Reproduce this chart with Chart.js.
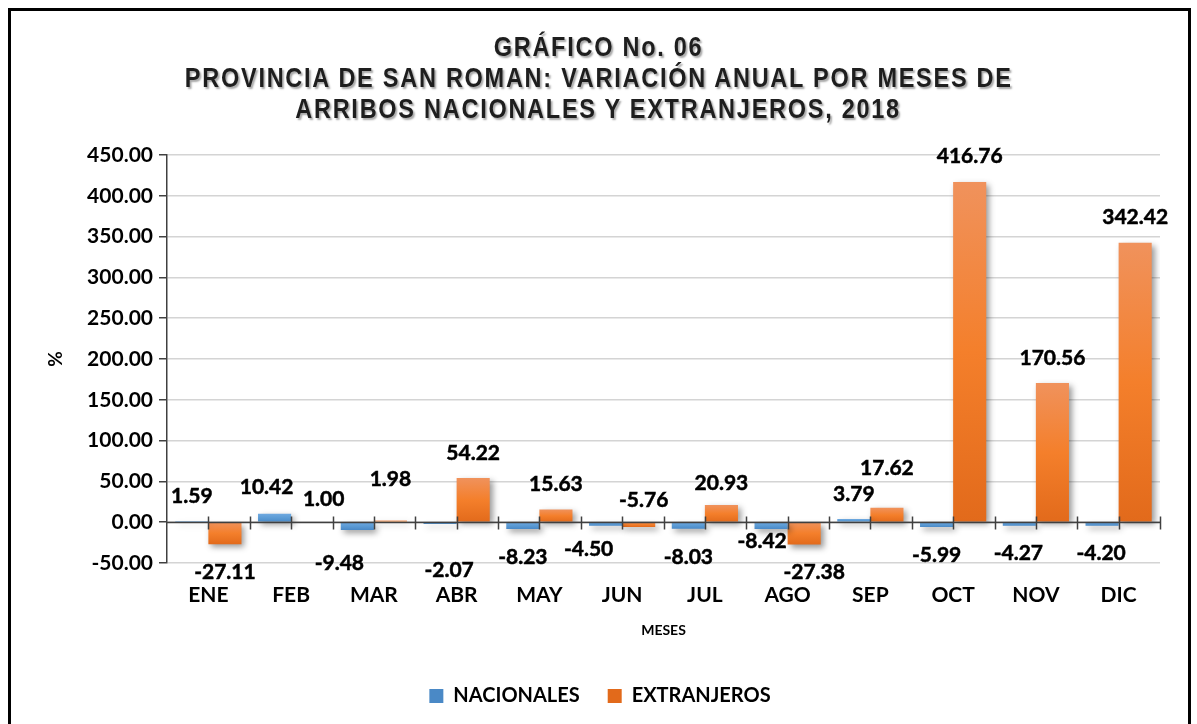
<!DOCTYPE html>
<html>
<head>
<meta charset="utf-8">
<script src="https://cdn.jsdelivr.net/npm/chart.js@4"></script>
<style>
    body { margin: 0; background: #fff; }
    #wrap { position: relative; width: 1197px; height: 724px; overflow: hidden; }
    #chart { position: absolute; left: 0; top: 0; }
    #frame { position: absolute; left: 8px; top: 8px; width: 1183px; height: 740px; border: 3px solid #000; box-sizing: border-box; pointer-events: none; }
    #title { position: absolute; left: 0; top: 32px; width: 1197px; text-align: center; color: #1e1e1e;
             font: bold 27px 'Liberation Sans', Arial, sans-serif;
             letter-spacing: 2px; line-height: 31px; text-shadow: 2px 2px 2px rgba(0, 0, 0, 0.35); }
    #title span { display: inline-block; transform: scaleX(0.87); white-space: nowrap; }
</style>
</head>
<body>
<div id="wrap">
    <canvas id="chart" width="1197" height="724"></canvas>
    <div id="title"><span>GRÁFICO No. 06</span><br><span>PROVINCIA DE SAN ROMAN: VARIACIÓN ANUAL POR MESES DE</span><br><span>ARRIBOS NACIONALES Y EXTRANJEROS, 2018</span></div>
    <div id="frame"></div>
</div>
<script>
const months = ['ENE', 'FEB', 'MAR', 'ABR', 'MAY', 'JUN', 'JUL', 'AGO', 'SEP', 'OCT', 'NOV', 'DIC'];
const nacionales = [1.59, 10.42, -9.48, -2.07, -8.23, -4.50, -8.03, -8.42, 3.79, -5.99, -4.27, -4.20];
const extranjeros = [-27.11, 1.00, 1.98, 54.22, 15.63, -5.76, 20.93, -27.38, 17.62, 416.76, 170.56, 342.42];
const yMin = -50;
const yMax = 450;
const yStep = 50;

// label nudges (px) relative to the bar end, as placed in the original
const nacLabelShift = [[0, -25], [-8, -26], [-18, 33], [9, 46], [0, 28], [-17, 23], [0, 28], [-9, 12], [0, -25], [0, 28], [-1, 28], [-1, 28]];
const extLabelShift = [[0, 28], [16, -22], [0, -41], [0, -25], [0, -25], [5, -27], [0, -22], [10, 28], [0, -40], [0, -26], [0, -25], [0, -26]];

const tickFont = { family: 'Lato, Carlito, sans-serif', size: 21, weight: 'bold' };

function barFill(top, mid, bottom) {
    return function (c) {
        const y = c.chart.scales.y;
        if (c.type !== 'data' || !y) return mid;
        const p0 = y.getPixelForValue(0);
        const p1 = y.getPixelForValue(c.raw);
        if (!isFinite(p0) || !isFinite(p1)) return mid;
        const g = c.chart.ctx.createLinearGradient(0, Math.min(p0, p1), 0, Math.max(p0, p1) + 0.01);
        g.addColorStop(0, top);
        g.addColorStop(0.5, mid);
        g.addColorStop(1, bottom);
        return g;
    };
}

const barShadow = {
    id: 'barShadow',
    beforeDatasetsDraw(chart) {
        const ctx = chart.ctx;
        ctx.save();
        ctx.shadowColor = 'rgba(0, 0, 0, 0.4)';
        ctx.shadowBlur = 6;
        ctx.shadowOffsetX = 3;
        ctx.shadowOffsetY = 3;
    },
    afterDatasetsDraw(chart) {
        chart.ctx.restore();
    }
};

// zero line with cross ticks every half category, like the original axis
const zeroAxis = {
    id: 'zeroAxis',
    afterDatasetsDraw(chart) {
        const ctx = chart.ctx;
        const y0 = Math.round(chart.scales.y.getPixelForValue(0)) + 0.5;
        const area = chart.chartArea;
        const step = (area.right - area.left) / (months.length * 2);
        ctx.save();
        ctx.strokeStyle = '#404040';
        ctx.lineWidth = 1.5;
        ctx.beginPath();
        ctx.moveTo(area.left, y0);
        ctx.lineTo(area.right, y0);
        for (let i = 1; i <= months.length * 2; i++) {
            const px = Math.round(area.left + i * step) + 0.5;
            ctx.moveTo(px, y0 - 6);
            ctx.lineTo(px, y0 + 7);
        }
        ctx.stroke();
        ctx.restore();
    }
};

const valueLabels = {
    id: 'valueLabels',
    afterDatasetsDraw(chart) {
        const ctx = chart.ctx;
        const shifts = [nacLabelShift, extLabelShift];
        ctx.save();
        ctx.font = 'bold 21px Lato, Carlito, sans-serif';
        ctx.fillStyle = '#000';
        ctx.strokeStyle = '#000';
        ctx.lineWidth = 0.5;
        ctx.textAlign = 'center';
        ctx.textBaseline = 'middle';
        chart.data.datasets.forEach(function (ds, d) {
            chart.getDatasetMeta(d).data.forEach(function (bar, i) {
                const s = shifts[d][i];
                const txt = ds.data[i].toFixed(2);
                ctx.fillText(txt, bar.x + s[0], bar.y + s[1]);
                ctx.strokeText(txt, bar.x + s[0], bar.y + s[1]);
            });
        });
        ctx.restore();
    }
};

new Chart(document.getElementById('chart'), {
    type: 'bar',
    data: {
        labels: months,
        datasets: [
            {
                label: 'NACIONALES',
                data: nacionales,
                backgroundColor: barFill('#6fa9e0', '#5b9bd5', '#4a89c6'),
                categoryPercentage: 0.8,
                barPercentage: 1.0
            },
            {
                label: 'EXTRANJEROS',
                data: extranjeros,
                backgroundColor: barFill('#f0925c', '#f47f2b', '#e26a1b'),
                categoryPercentage: 0.8,
                barPercentage: 1.0
            }
        ]
    },
    options: {
        responsive: false,
        animation: false,
        layout: { padding: { left: 40, right: 37, top: 155, bottom: 8 } },
        plugins: {
            title: { display: false },
            tooltip: { enabled: false },
            legend: {
                position: 'bottom',
                labels: {
                    boxWidth: 14,
                    boxHeight: 14,
                    padding: 28,
                    color: '#000',
                    font: { family: 'Lato, Carlito, sans-serif', size: 20, weight: 'bold' }
                }
            }
        },
        scales: {
            x: {
                grid: { display: false, drawTicks: false },
                border: { display: false },
                ticks: { color: '#000', font: tickFont, padding: 20, maxRotation: 0 },
                title: {
                    display: true,
                    text: 'MESES',
                    color: '#000',
                    font: { family: 'Lato, Carlito, sans-serif', size: 14, weight: 'bold' },
                    padding: { top: 0, bottom: 19 }
                },
                afterFit(scale) { scale.height = 95; }
            },
            y: {
                min: yMin,
                max: yMax,
                ticks: {
                    stepSize: yStep,
                    color: '#000',
                    font: tickFont,
                    padding: 6,
                    callback: function (v) { return v.toFixed(2); }
                },
                grid: { color: '#d4d4d4', lineWidth: 1.5, tickColor: '#404040', tickLength: 8 },
                border: { color: '#404040', width: 1.5 },
                title: {
                    display: true,
                    text: '%',
                    color: '#000',
                    font: { family: 'Lato, Carlito, sans-serif', size: 19, weight: 'bold' }
                },
                afterFit(scale) { scale.width = 127; }
            }
        }
    },
    plugins: [barShadow, zeroAxis, valueLabels]
});
</script>
</body>
</html>
